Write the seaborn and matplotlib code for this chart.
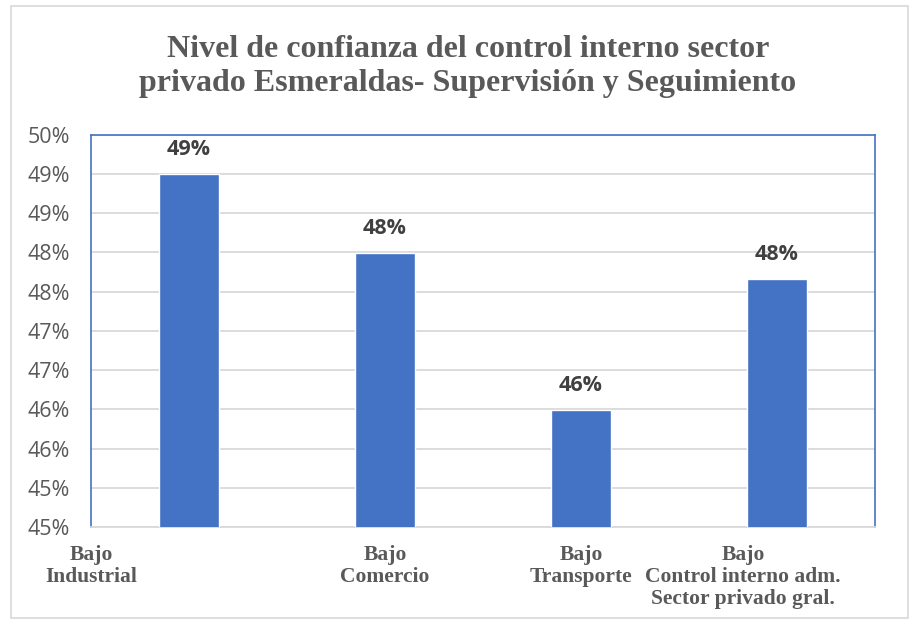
import numpy as np
import pandas as pd
import seaborn as sns
import matplotlib.pyplot as plt
from matplotlib.patches import Rectangle
from matplotlib.transforms import ScaledTranslation

# data
categories = ['Bajo\nIndustrial', 'Bajo\nComercio', 'Bajo\nTransporte',
              'Bajo\nControl interno adm.\nSector privado gral.']
values = [0.4950, 0.4849, 0.4649, 0.4816]
value_labels = ['49%', '48%', '46%', '48%']
y_ticks = [0.45, 0.455, 0.46, 0.465, 0.47, 0.475, 0.48, 0.485, 0.49, 0.495, 0.50]
y_tick_labels = ['45%', '45%', '46%', '46%', '47%', '47%', '48%', '48%', '49%', '49%', '50%']
title = 'Nivel de confianza del control interno sector\nprivado Esmeraldas- Supervisión y Seguimiento'

df = pd.DataFrame({'cat': categories, 'val': values})

sns.set_style('white')
plt.rcParams['font.family'] = ['Open Sans', 'DejaVu Sans']

fig = plt.figure(figsize=(9.14, 6.24), dpi=100)
ax = fig.add_axes([0.0996, 0.1554, 0.8578, 0.629])

sns.barplot(data=df, x='cat', y='val', color='#4472C4', width=0.31,
            saturation=1, ax=ax, zorder=3)

ax.set_ylim(0.45, 0.50)
ax.set_xlim(-0.5, 3.5)
ax.set_yticks(y_ticks)
ax.set_yticklabels(y_tick_labels, fontsize=15.5, color='#595959')
ax.yaxis.grid(True, color='#d9d9d9', linewidth=1.3, zorder=0)
ax.tick_params(axis='both', length=0)
ax.tick_params(axis='y', pad=15)
ax.set_xlabel('')
ax.set_ylabel('')

ax.set_xticks(range(len(categories)))
ax.set_xticklabels(categories, family='Liberation Serif', fontweight='bold',
                   fontsize=15.5, color='#595959', linespacing=1.13)
ax.tick_params(axis='x', pad=13)
# labels that Excel shifted away from their bars
shifts = [-0.98, 0, 0, -0.34]
for lab, dx in zip(ax.get_xticklabels(), shifts):
    lab.set_transform(lab.get_transform() + ScaledTranslation(dx, 0, fig.dpi_scale_trans))

for side in ['left', 'top', 'right']:
    ax.spines[side].set_color('#4472C4')
    ax.spines[side].set_linewidth(1.2)
ax.spines['bottom'].set_color('#d9d9d9')
ax.spines['bottom'].set_linewidth(1.3)

for i, (v, t) in enumerate(zip(values, value_labels)):
    ax.annotate(t, (i, v), xytext=(0, 17.5), textcoords='offset points',
                ha='center', va='center', fontsize=15.5, fontweight='bold',
                color='#404040')

fig.text(0.512, 0.893, title, ha='center', va='center', family='Liberation Serif',
         fontweight='bold', fontsize=23, color='#595959', linespacing=1.24)

# chart area border
fig.patches.append(Rectangle((11 / 914, 6 / 624), 897 / 914, 612 / 624,
                             transform=fig.transFigure, fill=False,
                             edgecolor='#d9d9d9', linewidth=1.2))

fig.savefig('out.png', dpi=100)
